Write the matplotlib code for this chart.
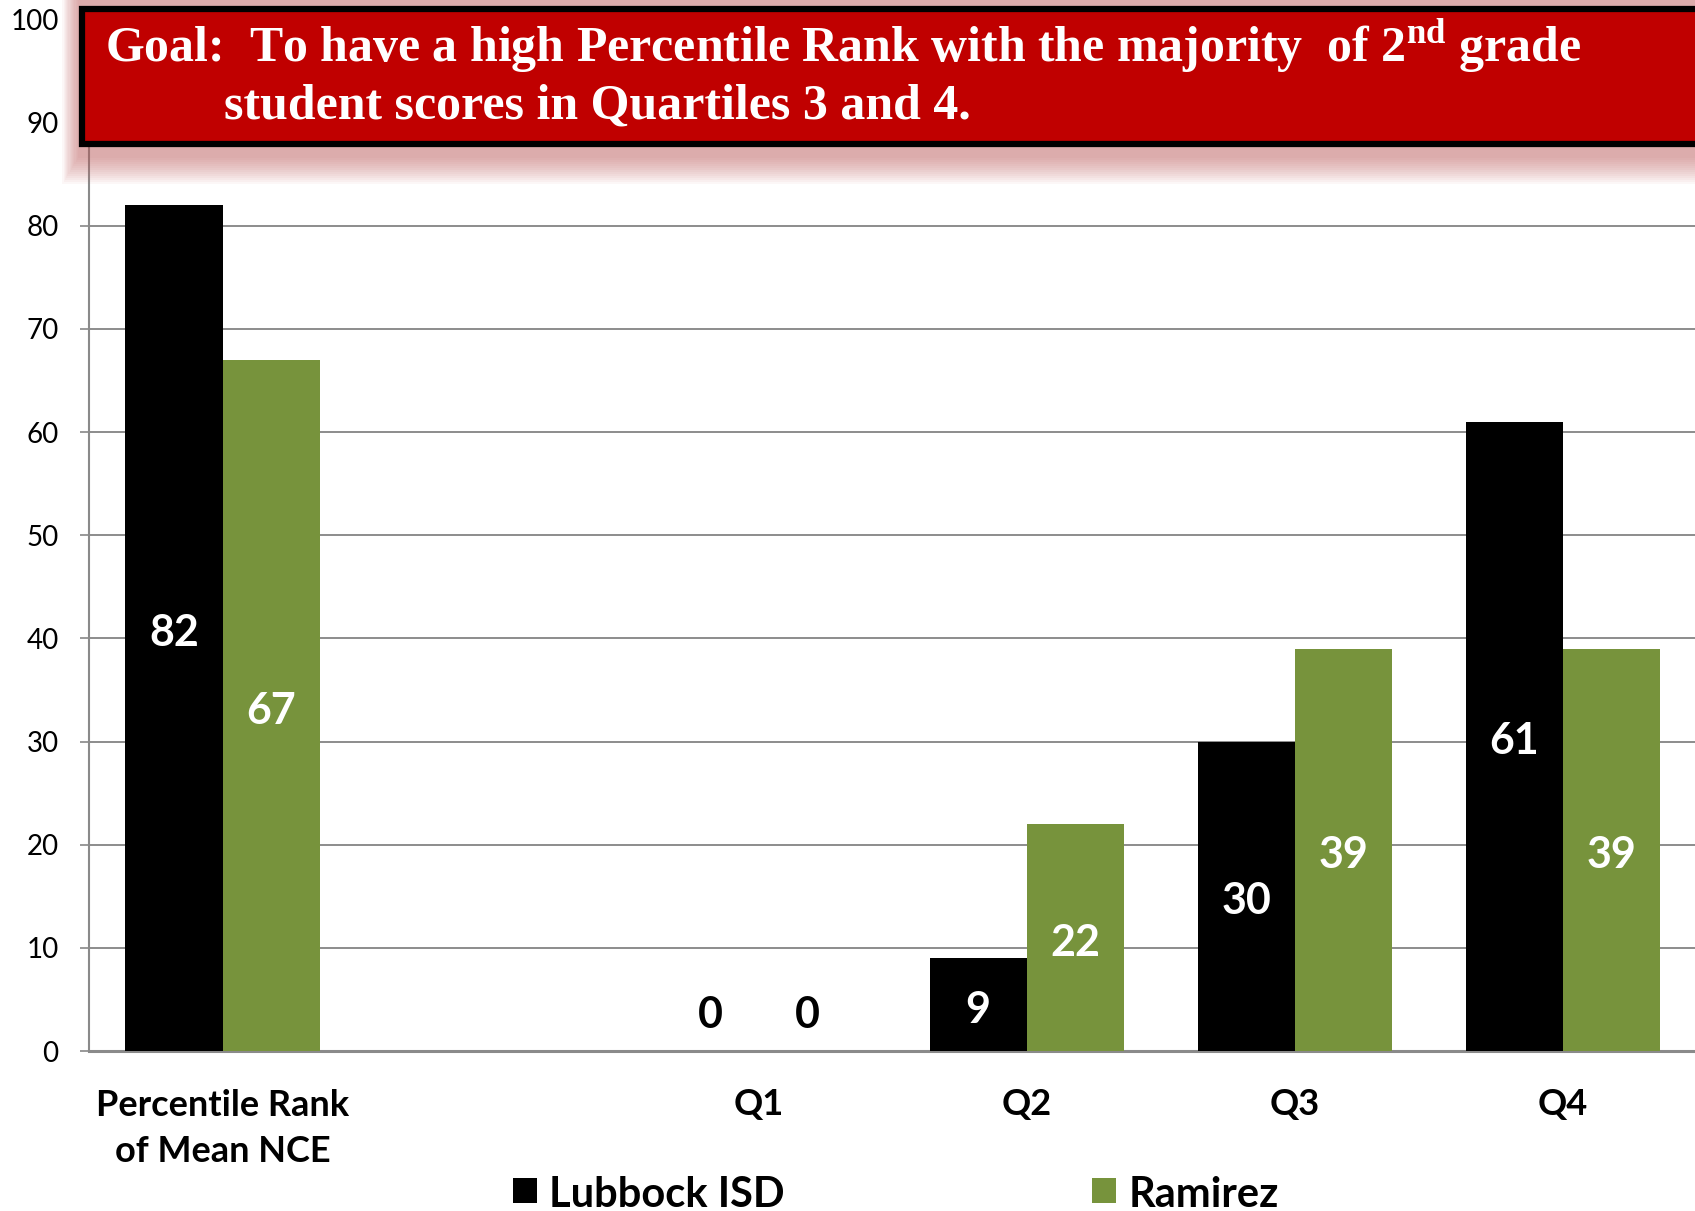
import matplotlib
matplotlib.use("Agg")
import matplotlib.pyplot as plt
from matplotlib.patches import Rectangle
from matplotlib import font_manager as fm
import numpy as np

# ---------------- data ----------------
categories = ["Percentile Rank\nof Mean NCE", "", "Q1", "Q2", "Q3", "Q4"]
lubbock = [82, np.nan, 0, 9, 30, 61]
ramirez = [67, np.nan, 0, 22, 39, 39]
series_names = ["Lubbock ISD", "Ramirez"]
series_colors = ["#000000", "#77933C"]
yticks = list(range(0, 101, 10))
title_line1 = "Goal:  To have a high Percentile Rank with the majority  of 2$^{\\mathrm{nd}}$ grade"
title_line2 = "student scores in Quartiles 3 and 4."

# ---------------- fonts ----------------
avail = {f.name for f in fm.fontManager.ttflist}
sans = "Lato" if "Lato" in avail else "DejaVu Sans"
serif = "Liberation Serif" if "Liberation Serif" in avail else "DejaVu Serif"
plt.rcParams["font.family"] = [sans, "DejaVu Sans"]
plt.rcParams["mathtext.fontset"] = "custom"
plt.rcParams["mathtext.rm"] = serif + ":bold"

W, H = 1695, 1211
fig = plt.figure(figsize=(W / 100, H / 100), dpi=100)

def fx(px):
    return px / W

def fy(py):
    return 1 - py / H

ax = fig.add_axes([fx(88.6), fy(1051), (1697 - 88.6) / W, (1051 - 19.5) / H])

x = np.arange(len(categories))
bw = 0.363
vals = [lubbock, ramirez]
offsets = [-bw / 2, bw / 2]
lab_fs = 31
cap_off = -0.42 * lab_fs  # put the digits' visual centre on the anchor
for v, off, c in zip(vals, offsets, series_colors):
    ax.bar(x + off, v, bw, color=c, zorder=3)
    for xi, val in zip(x, v):
        if np.isnan(val):
            continue
        ypos = 4 if val == 0 else val / 2
        col = "black" if val == 0 else "white"
        ax.annotate(f"{val:g}", xy=(xi + off, ypos), xytext=(0, cap_off),
                    textcoords="offset points", ha="center", va="baseline",
                    color=col, fontsize=lab_fs, fontweight="bold", zorder=4)

ax.set_xlim(-0.5, len(categories) - 0.5)
ax.set_ylim(0, 100)
ax.set_yticks(yticks)
ax.set_xticks(x, categories)
ax.tick_params(axis="y", length=6.5, width=1.2, color="#888888", pad=15,
               labelsize=20, labelcolor="black")
ax.tick_params(axis="x", length=0, pad=27, labelsize=26)
for lab in ax.get_xticklabels():
    lab.set_fontweight("bold")
    lab.set_linespacing(1.5)

for s in ["top", "right"]:
    ax.spines[s].set_visible(False)
ax.spines["left"].set_color("#8a8a8a")
ax.spines["left"].set_linewidth(1.5)
ax.spines["bottom"].set_color("#8a8a8a")
ax.spines["bottom"].set_linewidth(2.2)
ax.set_axisbelow(True)
ax.yaxis.grid(True, color="#8c8c8c", linewidth=1.4)

# ---------------- title box with glow ----------------
bx0, by0, by1 = 82, 9, 144
n = 14
for i in range(n):
    d = i * 2.0
    left = bx0 - 4 - d * 0.6
    top = by0 - 10 - d
    bottom = by1 + 14 + d
    fig.add_artist(Rectangle((fx(left), fy(bottom)), fx(1900 - left),
                             (bottom - top) / H, transform=fig.transFigure,
                             facecolor="#c06060", edgecolor="none",
                             alpha=0.047, zorder=5))
fig.add_artist(Rectangle((fx(bx0), fy(by1)), fx(1900 - bx0), (by1 - by0) / H,
                         transform=fig.transFigure, facecolor="#C00000",
                         edgecolor="black", linewidth=4.5, zorder=10))

fs = 34
t1 = fig.text(fx(105), fy(63), title_line1, color="white", fontsize=fs,
              family=serif, fontweight="bold", va="baseline", zorder=11)
t2 = fig.text(fx(224), fy(119), title_line2, color="white", fontsize=fs,
              family=serif, fontweight="bold", va="baseline", zorder=11)
fig.canvas.draw()
wdt = t1.get_window_extent().width
fs_new = fs * (1583 - 105) / wdt
t1.set_fontsize(fs_new)
t2.set_fontsize(fs_new)

# ---------------- legend ----------------
leg_sq_x = [513, 1092]
leg_tx_x = [549, 1129]
for name, c, sx, tx in zip(series_names, series_colors, leg_sq_x, leg_tx_x):
    fig.add_artist(Rectangle((fx(sx), fy(1203)), 24 / W, 25 / H,
                             transform=fig.transFigure, facecolor=c,
                             edgecolor="none"))
    fig.text(fx(tx), fy(1207), name, fontsize=30, fontweight="bold",
             va="baseline", ha="left")

fig.savefig("out.png", dpi=100)
